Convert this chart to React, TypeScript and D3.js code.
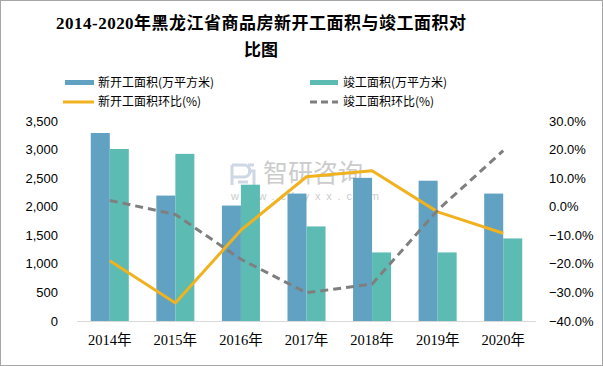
import React from "react";
import * as d3 from "d3";

const years = ["2014年", "2015年", "2016年", "2017年", "2018年", "2019年", "2020年"];
const newStart = [3290, 2195, 2020, 2230, 2505, 2455, 2230];
const completed = [3010, 2925, 2385, 1655, 1200, 1200, 1445];
const newStartRatio = [-18.9, -33.7, -8.2, 10.5, 12.6, -1.8, -9.3];
const completedRatio = [2.2, -2.7, -18.4, -30.1, -27.1, -1.2, 19.6];
const leftTicks = [0, 500, 1000, 1500, 2000, 2500, 3000, 3500];
const rightTicks = [-40, -30, -20, -10, 0, 10, 20, 30];

const W = 603;
const H = 366;
const blue = "#61a1c1";
const teal = "#5cbcb3";
const yellow = "#f0b21f";
const grey = "#7f7f7f";
const sans = "'Liberation Sans', 'Noto Sans CJK SC', sans-serif";
const cjk = "'Noto Sans CJK SC', sans-serif";

export default function App() {
  const x = d3.scaleBand<string>().domain(years).range([77, 536]);
  const yL = d3.scaleLinear().domain([0, 3500]).range([321, 121]);
  const yR = d3.scaleLinear().domain([-40, 30]).range([321, 121]);
  const bw = x.bandwidth() * 0.29;
  const cx = (i: number) => (x(years[i]) as number) + x.bandwidth() / 2;

  const line = d3
    .line<number>()
    .x((_, i) => cx(i))
    .y((d) => yR(d));

  return (
    <svg width={W} height={H} style={{ position: "absolute", left: 0, top: 0, background: "#fff" }}>
      <rect x={0.5} y={0.5} width={W - 1} height={H - 1} fill="#fff" stroke="#a6a6a6" />

      {/* title */}
      <text x={261} y={29} textAnchor="middle" fontFamily="'Liberation Serif', 'Noto Sans CJK SC', serif"
        fontWeight="bold" fontSize={17} textLength={410} fill="#000">
        2014-2020年黑龙江省商品房新开工面积与竣工面积对
      </text>
      <text x={261} y={56} textAnchor="middle" fontFamily={cjk} fontWeight="bold" fontSize={17} fill="#000">
        比图
      </text>

      {/* legend */}
      <g fontFamily={cjk} fontSize={12} fill="#000">
        <rect x={65} y={80} width={29} height={5} fill={blue} />
        <text x={98} y={86.5}>新开工面积(万平方米)</text>
        <rect x={310} y={80} width={28} height={5} fill={teal} />
        <text x={343} y={86.5}>竣工面积(万平方米)</text>
        <line x1={63} x2={94} y1={102} y2={102} stroke={yellow} strokeWidth={3} />
        <text x={98} y={106}>新开工面积环比(%)</text>
        <line x1={310} x2={338} y1={102} y2={102} stroke={grey} strokeWidth={3} strokeDasharray="7,4" />
        <text x={343} y={106}>竣工面积环比(%)</text>
      </g>

      {/* watermark */}
      <g opacity={0.5}>
        <path d="M232,165 h12 a6,6 0 0 1 0,12 h-12 M232,165 v20 M248,165 h6 M248,171 h6 v14 M238,182 h10"
          fill="none" stroke="#9fb0cc" strokeWidth={3} />
        <text x={263} y={182} fontFamily={cjk} fontSize={25} fill="#999">智研咨询</text>
        <text x={231} y={200} fontFamily={sans} fontSize={11} letterSpacing={5.8} fill="#999">www.chyxx.com</text>
      </g>

      {/* axis labels */}
      <g fontFamily={sans} fontSize={13} fill="#000">
        {leftTicks.map((t) => (
          <text key={t} x={58} y={yL(t) + 4.5} textAnchor="end">
            {d3.format(",")(t)}
          </text>
        ))}
        {rightTicks.map((t) => (
          <text key={t} x={549} y={yR(t) + 4.5} textAnchor="start">
            {d3.format(".1f")(t) + "%"}
          </text>
        ))}
      </g>

      {/* bars */}
      {years.map((yr, i) => (
        <g key={yr}>
          <rect x={cx(i) - bw} y={yL(newStart[i])} width={bw} height={yL(0) - yL(newStart[i])} fill={blue} />
          <rect x={cx(i)} y={yL(completed[i])} width={bw} height={yL(0) - yL(completed[i])} fill={teal} />
        </g>
      ))}

      <line x1={77} x2={536} y1={321.5} y2={321.5} stroke="#d9d9d9" />

      {/* x labels */}
      <g fontFamily="'Liberation Serif', 'Noto Sans CJK SC', serif" fontSize={14.5} fill="#000">
        {years.map((yr, i) => (
          <text key={yr} x={cx(i)} y={345} textAnchor="middle">{yr}</text>
        ))}
      </g>

      {/* lines */}
      <path d={line(newStartRatio) as string} fill="none" stroke={yellow} strokeWidth={3} strokeLinejoin="round" />
      <path d={line(completedRatio) as string} fill="none" stroke={grey} strokeWidth={3} strokeDasharray="8,5" />
    </svg>
  );
}
